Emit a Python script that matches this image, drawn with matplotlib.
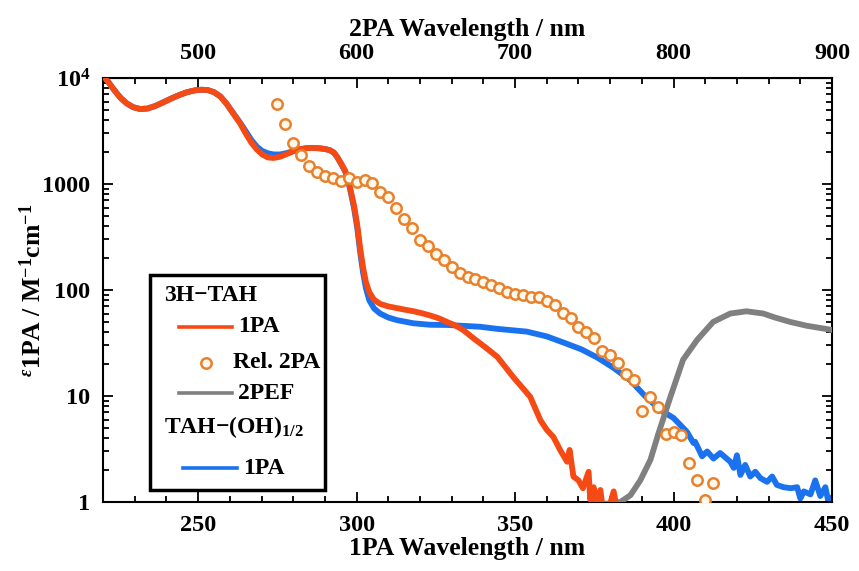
import numpy as np
import matplotlib.pyplot as plt
from matplotlib.ticker import MultipleLocator, FixedLocator, FixedFormatter, LogLocator, NullFormatter
from matplotlib.patches import Rectangle
from matplotlib.lines import Line2D

plt.rcParams['font.family'] = 'Liberation Serif'
plt.rcParams['font.weight'] = 'bold'
plt.rcParams['axes.labelweight'] = 'bold'
plt.rcParams['mathtext.fontset'] = 'custom'
plt.rcParams['mathtext.rm'] = 'Liberation Serif:bold'
plt.rcParams['mathtext.bf'] = 'Liberation Serif:bold'
plt.rcParams['mathtext.it'] = 'Liberation Serif:italic'

# 3H-TAH 1PA (orange)
tah_x = [220, 221.5, 223.5, 225.5, 227.5, 229.5, 231.7, 234, 236.5, 239,
         241.5, 244, 246.5, 249, 251, 253, 255, 257, 259, 261,
         263.2, 265, 266.8, 268.5, 270.2, 272, 273.8, 275.9, 278, 280.1,
         282.2, 284.3, 286.5, 288.5, 290.3, 291.6, 292.8, 293.8, 295, 296.4,
         297.3, 298.2, 299.2, 300.2, 301.1, 302, 302.9, 304, 305.5, 307.4,
         310, 312.7, 315.5, 318, 320.5, 323.2, 326, 328.5, 331, 333.7,
         336.9, 340.5, 344.4, 349.5, 354.8, 358, 360, 362.1, 364.2, 366.4,
         367.2, 368.4, 370, 371.4, 373.2, 373.7, 374.8, 375.6, 376.9, 377.6,
         379.5, 381.1, 382]
tah_y = [10500, 9300, 7700, 6500, 5750, 5300, 5100, 5150, 5450, 5900,
         6400, 6900, 7350, 7650, 7750, 7700, 7350, 6700, 5700, 4650,
         3740, 3000, 2450, 2120, 1900, 1780, 1760, 1810, 1920, 2040,
         2130, 2180, 2190, 2170, 2130, 2080, 1980, 1810, 1580, 1330,
         1100, 850, 620, 410, 250, 165, 120, 95, 81, 74,
         70, 67.5, 65, 63, 60.5, 57.5, 54, 50, 46.5, 41.8,
         35, 29, 23.4, 15, 9.8, 5.9, 4.8, 4.1, 3.1, 2.4,
         3.1, 1.74, 1.6, 1.35, 1.93, 1.05, 1.38, 0.9, 1.3, 0.9,
         0.85, 1.26, 0.9]

# TAH-(OH)1/2 1PA (blue)
oh_x = [220, 221.5, 223.5, 225.5, 227.5, 229.5, 231.7, 234, 236.5, 239,
        241.5, 244, 246.5, 249, 251, 253, 255, 257, 259, 261,
        263.2, 265, 266.8, 268.5, 270.2, 272, 273.8, 275.9, 278, 280.1,
        282.2, 284.3, 286.5, 288.5, 290.3, 291.6, 292.8, 293.8, 295, 296.4,
        297.3, 298.2, 299.2, 300.2, 301.1, 302, 302.9, 304, 305.5, 307.4,
        310, 312.7, 318, 323.2, 328.5, 339, 344.4, 353.7, 360, 365.2,
        371, 376, 381, 386.4, 391, 395.8, 400, 404.2, 406.3, 406.8,
        409, 410.6, 412.6, 414.7, 417.9, 419, 420, 421.1, 422.6, 424.2,
        425.8, 427.4, 429.5, 431.1, 432.6, 434.7, 437, 439, 440, 441.1,
        443.2, 444.7, 446.3, 447.9, 448.8, 450]
oh_y = [10500, 9300, 7700, 6500, 5750, 5300, 5100, 5150, 5450, 5900,
        6400, 6900, 7350, 7650, 7750, 7700, 7350, 6700, 5700, 4700,
        3800, 3150, 2600, 2250, 2050, 1950, 1900, 1900, 1960, 2050,
        2130, 2180, 2190, 2170, 2130, 2080, 1980, 1810, 1570, 1310,
        1080, 820, 590, 385, 230, 148, 105, 80, 67, 60,
        55, 52, 48.5, 47, 46.8, 45, 43, 40.5, 36.5, 32,
        27.5, 23, 18.5, 14, 10, 7.4, 6.2, 4.6, 3.6, 3.7,
        2.7, 3.0, 2.57, 2.9, 2.4, 2.1, 2.76, 1.8, 2.24, 1.74,
        1.93, 1.68, 1.55, 1.74, 1.45, 1.38, 1.35, 1.38, 1.08, 1.26,
        1.18, 1.6, 1.14, 1.38, 1.02, 1.1]

# 3H-TAH 2PEF (gray)
pef_x = [376, 380, 383.2, 386.4, 389.5, 392.7, 395.3, 399, 403, 407.5,
         412.5, 417.9, 423, 428.3, 432, 436.8, 442, 450]
pef_y = [0.95, 0.97, 1.0, 1.16, 1.6, 2.5, 4.5, 9.8, 22, 34,
         50, 60, 63, 60, 55, 50, 46, 42]

# 3H-TAH relative 2PA (circles), 2PA wavelength 550..825 nm
tpa_wl = list(range(550, 830, 5))
tpa_y = [5690, 3680, 2450, 1890, 1490, 1290, 1190, 1140, 1070, 1140,
         1050, 1100, 1030, 840, 760, 590, 470, 384, 296, 260,
         219, 192, 164, 144, 133, 126, 120, 112, 104, 96,
         91, 90, 86, 86, 78, 72, 61, 55, 45, 40,
         35, 26.7, 24.4, 20.6, 16.1, 14.2, 7.3, 9.8, 7.8, 4.4,
         4.6, 4.3, 2.35, 1.6, 1.04, 1.52]

c_orange = '#F64A14'
c_blue = '#1A72EE'
c_gray = '#808080'
c_circ = '#E9812C'

fig = plt.figure(figsize=(8.59, 5.71), dpi=100)
ax = fig.add_axes([0.12, 0.1208, 0.8486, 0.7426])

ax.plot(oh_x, oh_y, color=c_blue, lw=4.2, zorder=2, solid_joinstyle='round')
ax.plot(pef_x, pef_y, color=c_gray, lw=4.2, zorder=3, solid_joinstyle='round')
ax.plot(tah_x, tah_y, color=c_orange, lw=4.2, zorder=4, solid_joinstyle='round')
ax.plot(np.array(tpa_wl) / 2, tpa_y, 'o', ms=7.5, mfc='#FFF9EC', mec=c_circ,
        mew=1.8, zorder=5)

ax.set_xlim(220, 450)
ax.set_yscale('log')
ax.set_ylim(1, 1e4)

ax.xaxis.set_major_locator(MultipleLocator(50))
ax.xaxis.set_minor_locator(MultipleLocator(10))
ax.yaxis.set_major_locator(FixedLocator([1, 10, 100, 1000, 10000]))
ax.yaxis.set_major_formatter(FixedFormatter(['1', '10', '100', '1000', r'$\mathbf{10^4}$']))
ax.yaxis.set_minor_locator(LogLocator(base=10, subs=np.arange(2, 10)))
ax.yaxis.set_minor_formatter(NullFormatter())

ax.tick_params(which='both', direction='in', top=False, right=True, width=1.3,
               labelsize=17.5)
ax.tick_params(which='major', length=7, pad=9)
ax.tick_params(which='minor', length=4)
for sp in ax.spines.values():
    sp.set_linewidth(1.5)

top = ax.secondary_xaxis('top', functions=(lambda x: 2 * x, lambda x: x / 2))
top.xaxis.set_major_locator(FixedLocator([500, 600, 700, 800, 900]))
top.xaxis.set_minor_locator(MultipleLocator(20))
top.tick_params(which='both', direction='in', width=1.3, labelsize=17.5)
top.tick_params(which='major', length=7, pad=10)
top.tick_params(which='minor', length=4)
top.set_xlabel('2PA Wavelength / nm', fontsize=18.5, labelpad=5)

ax.set_xlabel('1PA Wavelength / nm', fontsize=18.5, labelpad=1)
ax.set_ylabel(r'$^{\varepsilon}$1PA / M$^{\mathbf{-1}}$cm$^{\mathbf{-1}}$', fontsize=18.5)
ax.yaxis.set_label_coords(-0.078, 0.5)

# legend, drawn by hand in axes fraction
tr = ax.transAxes
ax.add_patch(Rectangle((0.0645, 0.028), 0.24, 0.507, transform=tr, fill=True,
                       facecolor='white', edgecolor='black', lw=2.5, zorder=6))
ax.text(0.0837, 0.488, '3H−TAH', transform=tr, fontsize=17, va='center', zorder=7)
ax.add_line(Line2D([0.104, 0.177], [0.413, 0.413], transform=tr, color=c_orange, lw=2.6, zorder=7))
ax.text(0.185, 0.413, '1PA', transform=tr, fontsize=17, va='center', zorder=7)
ax.add_line(Line2D([0.141], [0.328], transform=tr, marker='o', ms=7.5, mfc='#FFF9EC',
                   mec=c_circ, mew=1.8, ls='none', zorder=7))
ax.text(0.178, 0.328, 'Rel. 2PA', transform=tr, fontsize=17, va='center', zorder=7)
ax.add_line(Line2D([0.104, 0.177], [0.257, 0.257], transform=tr, color=c_gray, lw=2.6, zorder=7))
ax.text(0.185, 0.257, '2PEF', transform=tr, fontsize=17, va='center', zorder=7)
ax.text(0.0837, 0.177, r'TAH−(OH)$_{\mathbf{1/2}}$', transform=tr, fontsize=17, va='center', zorder=7)
ax.add_line(Line2D([0.110, 0.184], [0.080, 0.080], transform=tr, color=c_blue, lw=2.6, zorder=7))
ax.text(0.192, 0.080, '1PA', transform=tr, fontsize=17, va='center', zorder=7)

fig.savefig('out.png', dpi=100)
